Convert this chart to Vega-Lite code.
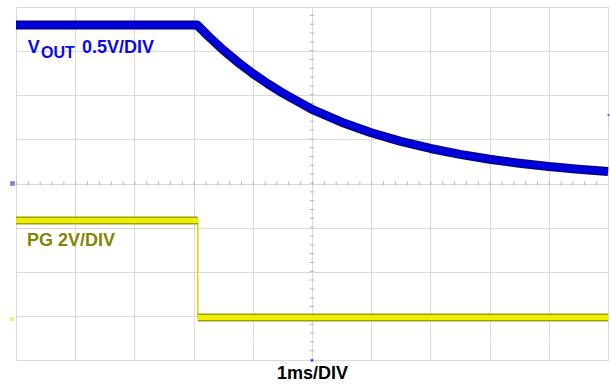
{
  "$schema": "https://vega.github.io/schema/vega-lite/v6.json",
  "width": 592,
  "height": 353,
  "autosize": "none",
  "padding": {"left": 16, "top": 7, "right": 2, "bottom": 25},
  "background": "white",
  "config": {
    "view": {"stroke": null},
    "font": "Liberation Sans"
  },
  "datasets": {
    "one": [{}],
    "vout": [
      {"t": -5.0, "v": 3.593},
      {"t": -4.0, "v": 3.593},
      {"t": -3.0, "v": 3.593},
      {"t": -1.94, "v": 3.593},
      {"t": -1.75, "v": 3.337},
      {"t": -1.5, "v": 3.027},
      {"t": -1.25, "v": 2.747},
      {"t": -1.0, "v": 2.493},
      {"t": -0.75, "v": 2.264},
      {"t": -0.5, "v": 2.055},
      {"t": -0.25, "v": 1.866},
      {"t": 0.0, "v": 1.68},
      {"t": 0.5, "v": 1.39},
      {"t": 1.0, "v": 1.15},
      {"t": 1.5, "v": 0.955},
      {"t": 2.0, "v": 0.794},
      {"t": 2.5, "v": 0.66},
      {"t": 3.0, "v": 0.55},
      {"t": 3.5, "v": 0.46},
      {"t": 4.0, "v": 0.385},
      {"t": 4.5, "v": 0.325},
      {"t": 5.0, "v": 0.274}
    ],
    "pg": [
      {"seg": "high", "t": -5.0, "v": -0.836},
      {"seg": "high", "t": -1.93, "v": -0.836},
      {"seg": "low", "t": -1.93, "v": -3.035},
      {"seg": "low", "t": 5.0, "v": -3.035}
    ]
  },
  "layer": [
    {
      "data": {"name": "vout"},
      "mark": {"type": "line", "strokeWidth": 0, "opacity": 0},
      "encoding": {
        "x": {
          "field": "t", "type": "quantitative",
          "scale": {"domain": [-5, 5], "nice": false, "zero": false},
          "axis": {
            "values": [-5, -4, -3, -2, -1, 0, 1, 2, 3, 4, 5],
            "grid": true, "gridColor": "#d9d9d9", "gridWidth": 1,
            "labels": false, "ticks": false, "domain": false,
            "title": "1ms/DIV", "titleFontSize": 18, "titleFontWeight": "bold",
            "titleColor": "#000000", "titlePadding": 4, "titleFont": "Liberation Sans"
          }
        },
        "y": {
          "field": "v", "type": "quantitative",
          "scale": {"domain": [-4, 4], "nice": false, "zero": false},
          "axis": {
            "values": [-4, -3, -2, -1, 0, 1, 2, 3, 4],
            "grid": true, "gridColor": "#d9d9d9", "gridWidth": 1,
            "labels": false, "ticks": false, "domain": false, "title": null
          }
        }
      }
    },
    {
      "data": {"name": "one"},
      "mark": {"type": "rule", "color": "#b4b4c4", "strokeWidth": 4, "strokeDash": [1, 10.84]},
      "encoding": {"x": {"datum": -5}, "x2": {"datum": 5}, "y": {"datum": 0}}
    },
    {
      "data": {"name": "one"},
      "mark": {"type": "rule", "color": "#b4b4c4", "strokeWidth": 4, "strokeDash": [1, 7.825]},
      "encoding": {"y": {"datum": -4}, "y2": {"datum": 4}, "x": {"datum": 0}}
    },
    {
      "data": {"name": "vout"},
      "mark": {"type": "line", "color": "#00009a", "strokeWidth": 9, "strokeJoin": "round"},
      "encoding": {
        "x": {"field": "t", "type": "quantitative"},
        "y": {"field": "v", "type": "quantitative"}
      }
    },
    {
      "data": {"name": "vout"},
      "mark": {"type": "line", "color": "#0000dc", "strokeWidth": 5.5, "strokeJoin": "round"},
      "encoding": {
        "x": {"field": "t", "type": "quantitative"},
        "y": {"field": "v", "type": "quantitative"}
      }
    },
    {
      "data": {"name": "one"},
      "mark": {"type": "rule", "color": "#d8d800", "strokeWidth": 1.5},
      "encoding": {"x": {"datum": -1.93}, "y": {"datum": -0.836}, "y2": {"datum": -3.035}}
    },
    {
      "data": {"name": "pg"},
      "mark": {"type": "line", "color": "#a0a000", "strokeWidth": 8},
      "encoding": {
        "x": {"field": "t", "type": "quantitative"},
        "y": {"field": "v", "type": "quantitative"},
        "detail": {"field": "seg"}
      }
    },
    {
      "data": {"name": "pg"},
      "mark": {"type": "line", "color": "#eeee00", "strokeWidth": 5},
      "encoding": {
        "x": {"field": "t", "type": "quantitative"},
        "y": {"field": "v", "type": "quantitative"},
        "detail": {"field": "seg"}
      }
    },
    {
      "data": {"name": "one"},
      "mark": {"type": "text", "text": "V", "align": "left", "baseline": "alphabetic", "fontSize": 18, "fontWeight": "bold", "color": "#0a0ae6", "font": "Liberation Sans"},
      "encoding": {"x": {"datum": -4.8}, "y": {"datum": 2.96}}
    },
    {
      "data": {"name": "one"},
      "mark": {"type": "text", "text": "OUT", "align": "left", "baseline": "alphabetic", "fontSize": 16, "fontWeight": "bold", "color": "#0a0ae6", "font": "Liberation Sans"},
      "encoding": {"x": {"datum": -4.578}, "y": {"datum": 2.847}}
    },
    {
      "data": {"name": "one"},
      "mark": {"type": "text", "text": "0.5V/DIV", "align": "left", "baseline": "alphabetic", "fontSize": 18, "fontWeight": "bold", "color": "#0a0ae6", "font": "Liberation Sans"},
      "encoding": {"x": {"datum": -3.885}, "y": {"datum": 2.96}}
    },
    {
      "data": {"name": "one"},
      "mark": {"type": "text", "text": "PG 2V/DIV", "align": "left", "baseline": "alphabetic", "fontSize": 18, "fontWeight": "bold", "color": "#858500", "font": "Liberation Sans"},
      "encoding": {"x": {"datum": -4.814}, "y": {"datum": -1.424}}
    },
    {
      "data": {"name": "one"},
      "mark": {"type": "point", "shape": "square", "filled": true, "size": 22, "color": "#8080d8", "opacity": 1},
      "encoding": {"x": {"datum": -5.06}, "y": {"datum": 0}}
    },
    {
      "data": {"name": "one"},
      "mark": {"type": "point", "shape": "square", "filled": true, "size": 18, "color": "#eeee80", "opacity": 1},
      "encoding": {"x": {"datum": -5.07}, "y": {"datum": -3.07}}
    },
    {
      "data": {"name": "one"},
      "mark": {"type": "point", "shape": "triangle-up", "filled": true, "size": 14, "color": "#3030e0", "opacity": 1},
      "encoding": {"x": {"datum": 0}, "y": {"datum": -4}}
    },
    {
      "data": {"name": "one"},
      "mark": {"type": "point", "shape": "square", "filled": true, "size": 4, "color": "#6060e0", "opacity": 1},
      "encoding": {"x": {"datum": 5.01}, "y": {"datum": 1.55}}
    }
  ]
}
